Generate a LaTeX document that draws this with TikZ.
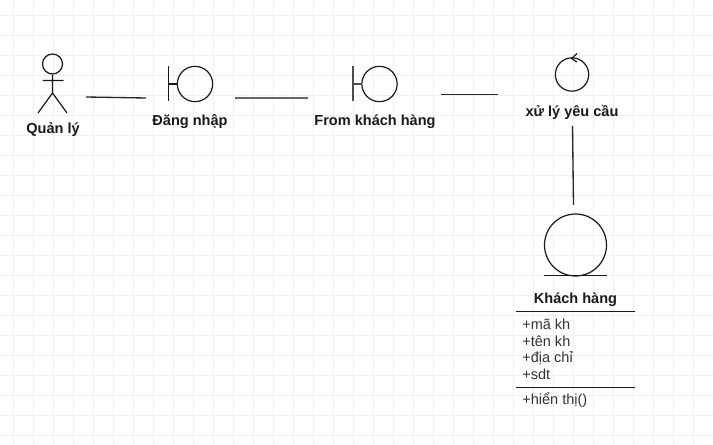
\documentclass[tikz,border=0pt]{standalone}
\usepackage{fontspec}
\setmainfont{Liberation Sans}
\begin{document}
\begin{tikzpicture}[x=0.75pt,y=-0.75pt,
  gridminor/.style={draw=black!6,line width=0.5pt},
  figure/.style={draw=black!90,line width=0.9pt},
  conn/.style={draw=black!85,line width=1pt},
  lbl/.style={font=\bfseries\fontsize{10.9pt}{13pt}\selectfont,text=black!90,inner sep=0pt,anchor=base},
  attr/.style={font=\fontsize{10.9pt}{13pt}\selectfont,text=black!80,inner sep=0pt,anchor=base west}]
\useasboundingbox (0,0) rectangle (713,445);
\fill[white] (0,0) rectangle (713,445);
\foreach \x in {13,33,...,713} \draw[gridminor] (\x,0) -- (\x,445);
\foreach \y in {15,35,...,445} \draw[gridminor] (0,\y) -- (713,\y);
% actor
\node[circle,figure,minimum size=15pt,inner sep=0pt] (head) at (52.5,64) {};
\coordinate (neck) at (head.south);
\coordinate (hip) at (52.5,93);
\coordinate (armL) at (42.5,80.5);
\coordinate (armR) at (63.5,80.5);
\coordinate (legL) at (38,113);
\coordinate (legR) at (67,113);
\draw[figure] (neck) -- (hip) (armL) -- (armR) (hip) -- (legL) (hip) -- (legR);
\node[lbl] (actor) at (53,134) {Quản lý};
% boundary 1
\node[circle,figure,minimum size=26.5pt,inner sep=0pt] (b1) at (195,84) {};
\coordinate (b1top) at (168.5,66);
\coordinate (b1bot) at (168.5,101);
\coordinate (b1mid) at (168.5,84);
\draw[figure] (b1top) -- (b1bot) (b1mid) -- (b1.west);
\node[lbl] (b1l) at (190,126) {Đăng nhập};
% boundary 2
\node[circle,figure,minimum size=26.5pt,inner sep=0pt] (b2) at (379.5,84) {};
\coordinate (b2top) at (353,66);
\coordinate (b2bot) at (353,101);
\coordinate (b2mid) at (353,84);
\draw[figure,draw=black!70] (b2top) -- (b2bot) (b2mid) -- (b2.west);
\node[lbl] (b2l) at (375,126) {From khách hàng};
% control
\node[circle,figure,minimum size=25pt,inner sep=0pt] (ctl) at (572,74.5) {};
\coordinate (ctlA) at (577,53.5);
\coordinate (ctlB) at (571.5,58.5);
\coordinate (ctlC) at (577,62);
\draw[figure] (ctlA) -- (ctlB) -- (ctlC);
\node[lbl] (ctll) at (572,116.7) {xử lý yêu cầu};
% entity
\node[circle,figure,minimum size=46.5pt,inner sep=0pt] (ent) at (575.5,245) {};
\coordinate (entL) at (544,275.5);
\coordinate (entR) at (607,275.5);
\draw[figure] (entL) -- (entR);
\node[lbl] (entl) at (575.5,303) {Khách hàng};
\coordinate (s1L) at (516,311.5);
\coordinate (s1R) at (635,311.5);
\coordinate (s2L) at (516,387.5);
\coordinate (s2R) at (635,387.5);
\draw[figure] (s1L) -- (s1R) (s2L) -- (s2R);
\node[attr] (a1) at (522,329) {+mã kh};
\node[attr] (a2) at (522,346) {+tên kh};
\node[attr] (a3) at (522,362) {+địa chỉ};
\node[attr] (a4) at (522,379) {+sdt};
\node[attr] (a5) at (522,404.5) {+hiển thị()};
% connectors with free ends
\coordinate (c1a) at (86,97); \coordinate (c1b) at (146,98);
\coordinate (c2a) at (235,98); \coordinate (c2b) at (308,98);
\coordinate (c3a) at (441,94.5); \coordinate (c3b) at (498,94.5);
\coordinate (c4a) at (572.5,126); \coordinate (c4b) at (573.5,205);
\draw[conn] (c1a) -- (c1b);
\draw[conn,draw=black!60] (c2a) -- (c2b);
\draw[conn,line width=1.2pt] (c3a) -- (c3b);
\draw[conn] (c4a) -- (c4b);
\end{tikzpicture}
\end{document}
